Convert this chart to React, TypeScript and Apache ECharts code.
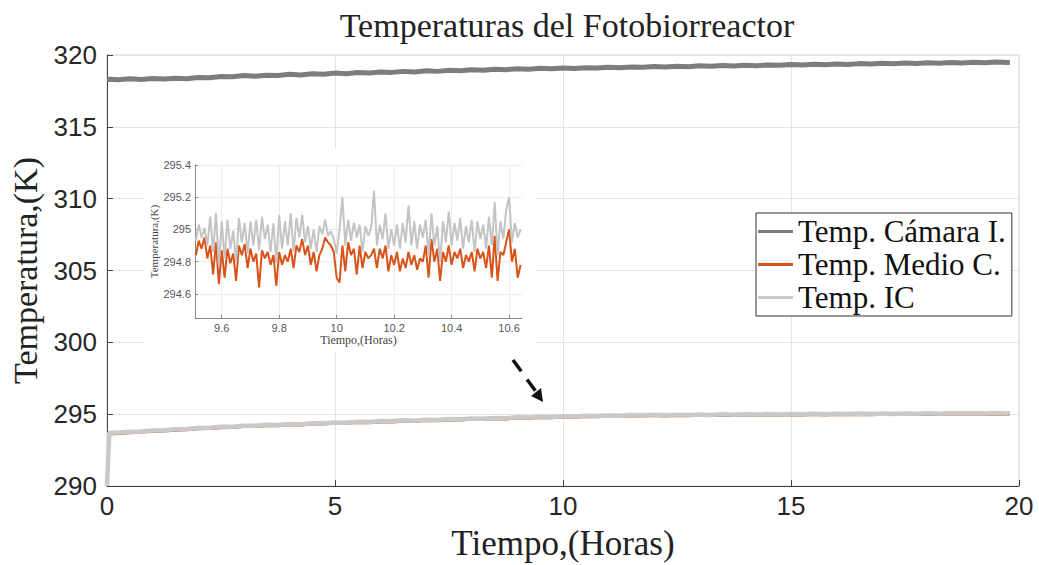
import React, { useEffect, useRef } from "react";
import * as echarts from "echarts";

const hours = [
  0, 0.05, 0.25, 0.5, 0.75, 1, 1.25, 1.5, 1.75, 2,
  2.25, 2.5, 2.75, 3, 3.25, 3.5, 3.75, 4, 4.25, 4.5,
  4.75, 5, 5.25, 5.5, 5.75, 6, 6.25, 6.5, 6.75, 7,
  7.25, 7.5, 7.75, 8, 8.25, 8.5, 8.75, 9, 9.25, 9.5,
  9.75, 10, 10.25, 10.5, 10.75, 11, 11.25, 11.5, 11.75, 12,
  12.25, 12.5, 12.75, 13, 13.25, 13.5, 13.75, 14, 14.25, 14.5,
  14.75, 15, 15.25, 15.5, 15.75, 16, 16.25, 16.5, 16.75, 17,
  17.25, 17.5, 17.75, 18, 18.25, 18.5, 18.75, 19, 19.25, 19.5,
  19.75, 19.8,
];

const camara = [
  318.28, 318.31, 318.27, 318.34, 318.30, 318.37, 318.33, 318.38, 318.35, 318.44,
  318.42, 318.50, 318.49, 318.57, 318.52, 318.59, 318.57, 318.66, 318.61, 318.69,
  318.66, 318.74, 318.70, 318.78, 318.74, 318.82, 318.79, 318.86, 318.82, 318.90,
  318.86, 318.94, 318.91, 318.97, 318.94, 319.01, 318.98, 319.04, 319.01, 319.07,
  319.04, 319.10, 319.06, 319.12, 319.09, 319.15, 319.11, 319.17, 319.14, 319.20,
  319.16, 319.22, 319.19, 319.25, 319.21, 319.27, 319.23, 319.29, 319.26, 319.31,
  319.28, 319.34, 319.30, 319.36, 319.32, 319.38, 319.34, 319.40, 319.37, 319.42,
  319.39, 319.44, 319.41, 319.46, 319.43, 319.48, 319.45, 319.50, 319.46, 319.51,
  319.48, 319.50,
];

const medio = [
  293.62, 293.62, 293.66, 293.71, 293.75, 293.80, 293.83, 293.88, 293.92, 293.98,
  294.01, 294.06, 294.08, 294.14, 294.14, 294.20, 294.20, 294.26, 294.25, 294.31,
  294.31, 294.36, 294.36, 294.42, 294.41, 294.46, 294.45, 294.51, 294.50, 294.56,
  294.55, 294.60, 294.59, 294.64, 294.63, 294.68, 294.67, 294.72, 294.71, 294.76,
  294.75, 294.80, 294.79, 294.83, 294.82, 294.85, 294.84, 294.88, 294.87, 294.90,
  294.87, 294.90, 294.89, 294.92, 294.90, 294.93, 294.91, 294.94, 294.92, 294.95,
  294.93, 294.96, 294.94, 294.97, 294.95, 294.97, 294.96, 294.98, 294.96, 294.99,
  294.97, 294.99, 294.98, 295.00, 294.98, 295.01, 294.99, 295.01, 295.00, 295.02,
  295.00, 295.00,
];

const ic = [
  290.0, 293.70, 293.72, 293.78, 293.80, 293.86, 293.88, 293.95, 293.97, 294.04,
  294.06, 294.12, 294.13, 294.20, 294.19, 294.26, 294.25, 294.32, 294.30, 294.37,
  294.36, 294.42, 294.41, 294.48, 294.46, 294.52, 294.50, 294.57, 294.55, 294.62,
  294.60, 294.66, 294.64, 294.70, 294.68, 294.74, 294.72, 294.78, 294.76, 294.82,
  294.80, 294.86, 294.84, 294.89, 294.87, 294.91, 294.89, 294.94, 294.92, 294.96,
  294.93, 294.96, 294.94, 294.98, 294.95, 294.99, 294.96, 295.00, 294.97, 295.01,
  294.98, 295.02, 294.99, 295.03, 295.00, 295.03, 295.01, 295.04, 295.01, 295.05,
  295.02, 295.05, 295.03, 295.06, 295.03, 295.07, 295.04, 295.07, 295.05, 295.08,
  295.05, 295.06,
];

const insetHours = [
  9.51, 9.52, 9.53, 9.54, 9.55, 9.56, 9.57, 9.58, 9.59, 9.6,
  9.61, 9.62, 9.63, 9.64, 9.65, 9.66, 9.67, 9.68, 9.69, 9.7,
  9.71, 9.72, 9.73, 9.74, 9.75, 9.76, 9.77, 9.78, 9.79, 9.8,
  9.81, 9.82, 9.83, 9.84, 9.85, 9.86, 9.87, 9.88, 9.89, 9.9,
  9.91, 9.92, 9.93, 9.94, 9.95, 9.96, 9.97, 9.98, 9.99, 10.0,
  10.01, 10.02, 10.03, 10.04, 10.05, 10.06, 10.07, 10.08, 10.09, 10.1,
  10.11, 10.12, 10.13, 10.14, 10.15, 10.16, 10.17, 10.18, 10.19, 10.2,
  10.21, 10.22, 10.23, 10.24, 10.25, 10.26, 10.27, 10.28, 10.29, 10.3,
  10.31, 10.32, 10.33, 10.34, 10.35, 10.36, 10.37, 10.38, 10.39, 10.4,
  10.41, 10.42, 10.43, 10.44, 10.45, 10.46, 10.47, 10.48, 10.49, 10.5,
  10.51, 10.52, 10.53, 10.54, 10.55, 10.56, 10.57, 10.58, 10.59, 10.6,
  10.61, 10.62, 10.63, 10.64,
];

const insetIC = [
  294.93, 295.03, 294.95, 295.01, 294.90, 295.08, 294.86, 295.10, 294.78, 295.05,
  294.82, 295.06, 294.88, 294.99, 294.80, 295.07, 294.92, 295.04, 294.85, 295.05,
  294.90, 295.06, 294.87, 295.08, 294.94, 295.03, 294.86, 295.04, 294.79, 295.09,
  294.88, 295.05, 294.90, 295.10, 294.86, 295.07, 294.95, 295.09, 294.92, 295.02,
  294.88, 295.00, 294.86, 295.02, 294.97, 295.06, 294.96, 294.99, 294.94, 294.85,
  295.00, 295.20, 294.90, 295.06, 294.93, 295.04, 294.95, 295.03, 294.86, 295.02,
  294.96, 295.01, 295.24, 294.90, 295.03, 294.94, 295.10, 294.88, 295.00, 294.90,
  295.03, 294.88, 295.04, 294.92, 295.15, 294.90, 295.05, 294.88, 295.03, 294.95,
  295.06, 294.84, 295.10, 294.90, 295.02, 294.80, 295.05, 294.92, 295.11, 294.90,
  295.04, 294.93, 295.07, 294.88, 295.02, 294.92, 295.06, 294.86, 295.05, 294.94,
  295.03, 294.88, 295.08, 294.90, 295.17, 294.84, 295.05, 294.94, 295.12, 295.20,
  294.92, 295.04, 294.95, 295.00,
];

const insetMedio = [
  294.84, 294.93, 294.88, 294.95, 294.82, 294.90, 294.72, 294.92, 294.66, 294.87,
  294.70, 294.88, 294.79, 294.85, 294.68, 294.90, 294.84, 294.91, 294.76, 294.88,
  294.80, 294.85, 294.64, 294.87, 294.82, 294.86, 294.78, 294.84, 294.65, 294.86,
  294.78, 294.84, 294.80, 294.88, 294.76, 294.90, 294.86, 294.94, 294.84, 294.90,
  294.78, 294.86, 294.74, 294.84, 294.88, 294.95, 294.92, 294.90, 294.86, 294.70,
  294.67, 294.90, 294.74, 294.92, 294.84, 294.88, 294.72, 294.90, 294.76, 294.86,
  294.82, 294.84, 294.88, 294.76, 294.88, 294.82, 294.90, 294.74, 294.84, 294.78,
  294.86, 294.74, 294.82, 294.76, 294.86, 294.78, 294.84, 294.75, 294.82, 294.80,
  294.90, 294.70, 294.94, 294.80, 294.88, 294.68, 294.86, 294.80, 294.90, 294.78,
  294.86, 294.82, 294.88, 294.76, 294.84, 294.80, 294.86, 294.74, 294.88, 294.82,
  294.86, 294.76, 294.90, 294.70, 294.96, 294.68, 294.86, 294.84, 294.92, 295.00,
  294.80, 294.88, 294.70, 294.78,
];

const seriesNames = ["Temp. Cámara I.", "Temp. Medio C.", "Temp. IC"];
const insetXTicks = [9.6, 9.8, 10, 10.2, 10.4, 10.6];
const insetYTicks = [294.6, 294.8, 295, 295.2, 295.4];

const COL_CAM = "#7d7d7d";
const COL_MED = "#d95319";
const COL_IC = "#c9c9c9";
const SERIF = "'Liberation Serif', 'Times New Roman', serif";
const SANS = "'Liberation Sans', Arial, sans-serif";

const pair = (xs: number[], ys: number[]) => xs.map((x, i) => [x, ys[i]]);

export default function App() {
  const ref = useRef<HTMLDivElement>(null);
  useEffect(() => {
    if (!ref.current) return;
    const chart = echarts.init(ref.current, undefined, { renderer: "svg" });
    const option: any = {
      animation: false,
      backgroundColor: "#ffffff",
      title: {
        text: "Temperaturas del Fotobiorreactor",
        left: 562,
        textAlign: "center",
        top: 3,
        textStyle: { fontFamily: SERIF, fontSize: 34, fontWeight: "normal", color: "#222" },
      },
      legend: {
        data: seriesNames,
        orient: "vertical",
        left: 756,
        top: 213,
        padding: [3, 6, 3, 2],
        itemGap: 2,
        itemWidth: 35,
        itemHeight: 3,
        icon: "rect",
        backgroundColor: "#fff",
        borderColor: "#333",
        borderWidth: 1,
        textStyle: { fontFamily: SERIF, fontSize: 31, color: "#111", lineHeight: 31 },
      },
      grid: [
        {
          left: 107, top: 55, right: 20, bottom: 79,
          show: true, borderColor: "#d9d9d9", borderWidth: 1,
          outerBoundsMode: "none",
        },
        {
          left: 195, top: 165, width: 327, height: 153,
          outerBoundsMode: "none",
        },
      ],
      xAxis: [
        {
          type: "value", gridIndex: 0, min: 0, max: 20, interval: 5,
          name: "Tiempo,(Horas)", nameLocation: "middle", nameGap: 40,
          nameTextStyle: { fontFamily: SERIF, fontSize: 35, color: "#222" },
          axisLine: { show: true, lineStyle: { color: "#404040", width: 1 } },
          axisTick: { show: true, inside: true, length: 6, lineStyle: { color: "#404040" } },
          axisLabel: { fontFamily: SANS, fontSize: 26, color: "#262626", margin: 7 },
          splitLine: { show: true, lineStyle: { color: "#e3e3e3", width: 1 } },
        },
        {
          type: "value", gridIndex: 1, min: 9.507, max: 10.645, z: 2,
          name: "Tiempo,(Horas)", nameLocation: "middle", nameGap: 15,
          nameTextStyle: { fontFamily: SERIF, fontSize: 12, color: "#444" },
          axisLine: { show: true, lineStyle: { color: "#8a8a8a", width: 1 } },
          axisTick: { show: true, inside: true, length: 3, customValues: insetXTicks, lineStyle: { color: "#8a8a8a" } },
          axisLabel: { fontFamily: SANS, fontSize: 11, color: "#555", margin: 4, customValues: insetXTicks },
          splitLine: { show: true, lineStyle: { color: "#ececec", width: 1 } },
        },
      ],
      yAxis: [
        {
          type: "value", gridIndex: 0, min: 290, max: 320, interval: 5,
          name: "Temperatura,(K)", nameLocation: "middle", nameGap: 62,
          nameTextStyle: { fontFamily: SERIF, fontSize: 34, color: "#222" },
          axisLine: { show: true, lineStyle: { color: "#404040", width: 1 } },
          axisTick: { show: true, inside: true, length: 6, lineStyle: { color: "#404040" } },
          axisLabel: { fontFamily: SANS, fontSize: 26, color: "#262626", margin: 10 },
          splitLine: { show: true, lineStyle: { color: "#e3e3e3", width: 1 } },
        },
        {
          type: "value", gridIndex: 1, min: 294.45, max: 295.4, z: 2,
          name: "Temperatura,(K)", nameLocation: "middle", nameGap: 30,
          nameTextStyle: { fontFamily: SERIF, fontSize: 11, color: "#444" },
          axisLine: { show: true, lineStyle: { color: "#8a8a8a", width: 1 } },
          axisTick: { show: true, inside: true, length: 3, customValues: insetYTicks, lineStyle: { color: "#8a8a8a" } },
          axisLabel: { fontFamily: SANS, fontSize: 11, color: "#555", margin: 4, customValues: insetYTicks },
          splitLine: { show: true, lineStyle: { color: "#ececec", width: 1 } },
        },
      ],
      series: [
        {
          name: seriesNames[0], type: "line", xAxisIndex: 0, yAxisIndex: 0,
          data: pair(hours, camara), showSymbol: false, color: COL_CAM,
          lineStyle: { color: COL_CAM, width: 5 },
        },
        {
          name: seriesNames[1], type: "line", xAxisIndex: 0, yAxisIndex: 0,
          data: pair(hours, medio), showSymbol: false, color: COL_MED,
          lineStyle: { color: COL_MED, width: 3 },
        },
        {
          name: seriesNames[2], type: "line", xAxisIndex: 0, yAxisIndex: 0,
          data: pair(hours, ic), showSymbol: false, color: COL_IC,
          lineStyle: { color: COL_IC, width: 4.5 },
        },
        {
          name: seriesNames[1], type: "line", xAxisIndex: 1, yAxisIndex: 1, z: 3,
          data: pair(insetHours, insetMedio), showSymbol: false, color: COL_MED,
          lineStyle: { color: COL_MED, width: 2 },
        },
        {
          name: seriesNames[2], type: "line", xAxisIndex: 1, yAxisIndex: 1, z: 4,
          data: pair(insetHours, insetIC), showSymbol: false, color: COL_IC,
          lineStyle: { color: "#c4c4c4", width: 2 },
        },
      ],
      graphic: [
        {
          type: "rect", z: 1, silent: true,
          shape: { x: 143, y: 148, width: 392, height: 204 },
          style: { fill: "#ffffff" },
        },
        {
          type: "line", z: 10, silent: true,
          shape: { x1: 513, y1: 360, x2: 537, y2: 393 },
          style: { stroke: "#111", lineWidth: 3.5, lineDash: [14, 10] },
        },
        {
          type: "polygon", z: 10, silent: true,
          shape: { points: [[543, 402], [531, 396], [541, 388]] },
          style: { fill: "#111" },
        },
      ],
    };
    chart.setOption(option);
    return () => chart.dispose();
  }, []);
  return (
    <div
      ref={ref}
      style={{ position: "fixed", left: 0, top: 0, width: 1039, height: 565 }}
    />
  );
}
